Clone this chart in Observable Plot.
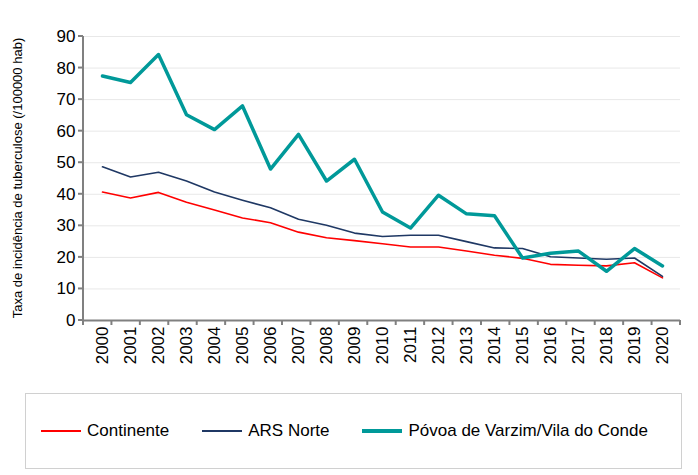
<!DOCTYPE html>
<html><head><meta charset="utf-8">
<script src="https://cdn.jsdelivr.net/npm/d3@7"></script>
<script src="https://cdn.jsdelivr.net/npm/@observablehq/plot@0.6"></script>
<style>
body{margin:0;font-family:Arial,"Liberation Sans",sans-serif;background:#fff}
#wrap{width:698px}
#legend{margin:8px 0 0 25px;width:655px;height:74px;border:1px solid #d0d0d0;display:flex;align-items:center;font-size:17px;color:#000}
.it{display:flex;align-items:center;margin-left:15px;margin-right:18px}
.sw{width:40px;margin-right:6px}
</style></head><body><div id="wrap"><div id="chart"></div><div id="legend"></div></div>
<script>
const years = d3.range(2000, 2021).map(String);
const continente = [40.7,38.8,40.6,37.5,35,32.5,31,28,26.2,25.3,24.3,23.3,23.3,22,20.7,19.7,17.8,17.5,17.3,18.3,13.5];
const arsNorte = [48.7,45.5,47,44.2,40.7,38.1,35.7,32.1,30.2,27.7,26.6,27,27,25,23,22.8,20.2,19.8,19.4,19.8,14];
const povoa = [77.5,75.4,84.3,65.2,60.5,68,48,59,44.2,51.1,34.4,29.3,39.7,33.8,33.2,19.8,21.3,22,15.6,22.8,17.3];
const series = [
  {name:"Continente", values:continente, color:"#ff0000", w:1.6},
  {name:"ARS Norte", values:arsNorte, color:"#1f3864", w:1.6},
  {name:"Póvoa de Varzim/Vila do Conde", values:povoa, color:"#009999", w:3.5}
];
const data = series.flatMap(s => s.values.map((v,i) => ({year:years[i], v, s:s.name})));
const chart = Plot.plot({
  width:698, height:385,
  marginLeft:83, marginRight:18, marginTop:36, marginBottom:65,
  style:{fontFamily:"Arial, 'Liberation Sans', sans-serif", fontSize:"17px", color:"#000"},
  x:{type:"point", domain:years, padding:0.5, label:null, tickRotate:-90, tickSize:0, tickPadding:6},
  y:{domain:[0,90], ticks:d3.range(0,91,10), label:null, tickSize:0, tickPadding:8},
  marks:[
    Plot.gridY(d3.range(10,91,10), {stroke:"#e8e8e8", strokeOpacity:1, strokeWidth:1}),
    Plot.ruleY([0], {stroke:"#808080", strokeWidth:2}),
    ...series.map(s => Plot.line(data.filter(d=>d.s===s.name), {x:"year", y:"v", stroke:s.color, strokeWidth:s.w}))
  ]
});
document.getElementById("chart").append(chart);
const sy = chart.scale("y");
const svg = d3.select(chart);
const x0 = 83, x1 = 680;
svg.append("line").attr("x1",x0).attr("x2",x0).attr("y1",sy.apply(0)).attr("y2",sy.apply(90)).attr("stroke","#808080").attr("stroke-width",2);
d3.range(0,91,10).forEach(t=>svg.append("line").attr("x1",x0-5).attr("x2",x0).attr("y1",sy.apply(t)).attr("y2",sy.apply(t)).attr("stroke","#808080").attr("stroke-width",2));
const step = (x1-x0)/years.length;
d3.range(years.length+1).forEach(i=>svg.append("line").attr("x1",x0+i*step).attr("x2",x0+i*step).attr("y1",sy.apply(0)).attr("y2",sy.apply(0)+5).attr("stroke","#808080").attr("stroke-width",2));
svg.append("text").attr("transform",`translate(22,${(sy.apply(0)+sy.apply(90))/2}) rotate(-90)`).attr("text-anchor","middle").attr("font-size",13).attr("fill","#000").text("Taxa de incidência de tuberculose (/100000 hab)");
const lg = d3.select("#legend");
series.forEach(s=>{const it=lg.append("div").attr("class","it");it.append("div").attr("class","sw").style("height",`${Math.round(s.w)}px`).style("background",s.color);it.append("span").text(s.name);});
</script></body></html>
